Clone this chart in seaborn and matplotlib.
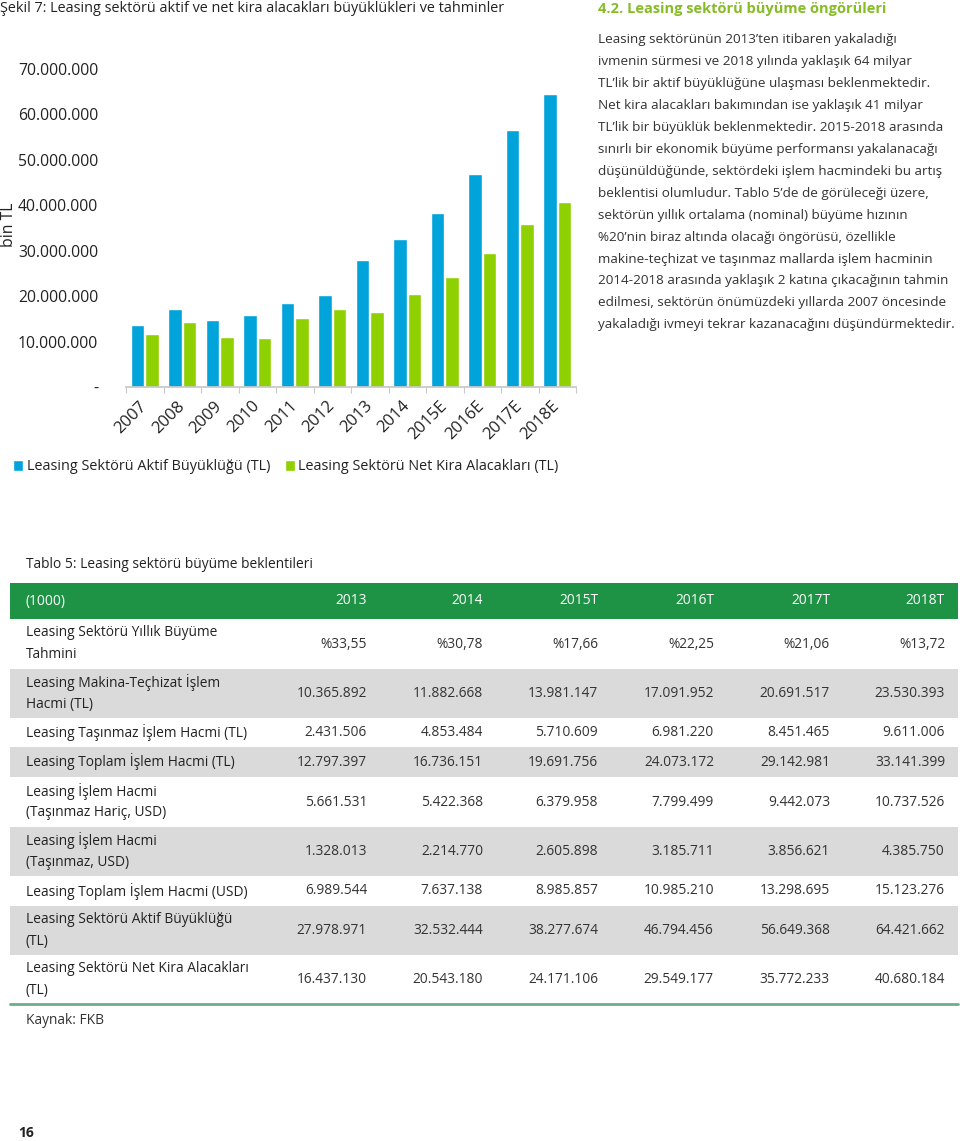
import matplotlib.pyplot as plt
import matplotlib.ticker as mticker
from matplotlib.patches import Rectangle
import pandas as pd
import seaborn as sns

# --- chart data (bin TL) ---
yillar = ["2007", "2008", "2009", "2010", "2011", "2012", "2013", "2014",
          "2015E", "2016E", "2017E", "2018E"]
aktif = [13.7e6, 17.1e6, 14.7e6, 15.8e6, 18.6e6, 20.2e6, 27978971, 32532444,
         38277674, 46794456, 56649368, 64421662]
net_kira = [11.7e6, 14.4e6, 11.0e6, 10.7e6, 15.1e6, 17.1e6, 16437130, 20543180,
            24171106, 29549177, 35772233, 40680184]
seri_adlari = ["Leasing Sektörü Aktif Büyüklüğü (TL)",
               "Leasing Sektörü Net Kira Alacakları (TL)"]

# --- table data ---
tablo_basliklari = ["(1000)", "2013", "2014", "2015T", "2016T", "2017T", "2018T"]
satir_adlari = [
    "Leasing Sektörü Yıllık Büyüme\nTahmini",
    "Leasing Makina-Teçhizat İşlem\nHacmi (TL)",
    "Leasing Taşınmaz İşlem Hacmi (TL)",
    "Leasing Toplam İşlem Hacmi (TL)",
    "Leasing İşlem Hacmi\n(Taşınmaz Hariç, USD)",
    "Leasing İşlem Hacmi\n(Taşınmaz, USD)",
    "Leasing Toplam İşlem Hacmi (USD)",
    "Leasing Sektörü Aktif Büyüklüğü\n(TL)",
    "Leasing Sektörü Net Kira Alacakları\n(TL)",
]
tablo_degerleri = [
    ["%33,55", "%30,78", "%17,66", "%22,25", "%21,06", "%13,72"],
    ["10.365.892", "11.882.668", "13.981.147", "17.091.952", "20.691.517", "23.530.393"],
    ["2.431.506", "4.853.484", "5.710.609", "6.981.220", "8.451.465", "9.611.006"],
    ["12.797.397", "16.736.151", "19.691.756", "24.073.172", "29.142.981", "33.141.399"],
    ["5.661.531", "5.422.368", "6.379.958", "7.799.499", "9.442.073", "10.737.526"],
    ["1.328.013", "2.214.770", "2.605.898", "3.185.711", "3.856.621", "4.385.750"],
    ["6.989.544", "7.637.138", "8.985.857", "10.985.210", "13.298.695", "15.123.276"],
    ["27.978.971", "32.532.444", "38.277.674", "46.794.456", "56.649.368", "64.421.662"],
    ["16.437.130", "20.543.180", "24.171.106", "29.549.177", "35.772.233", "40.680.184"],
]

metin_satirlari = [
    "Leasing sektörünün 2013’ten itibaren yakaladığı",
    "ivmenin sürmesi ve 2018 yılında yaklaşık 64 milyar",
    "TL’lik bir aktif büyüklüğüne ulaşması beklenmektedir.",
    "Net kira alacakları bakımından ise yaklaşık 41 milyar",
    "TL’lik bir büyüklük beklenmektedir. 2015-2018 arasında",
    "sınırlı bir ekonomik büyüme performansı yakalanacağı",
    "düşünüldüğünde, sektördeki işlem hacmindeki bu artış",
    "beklentisi olumludur. Tablo 5’de de görüleceği üzere,",
    "sektörün yıllık ortalama (nominal) büyüme hızının",
    "%20’nin biraz altında olacağı öngörüsü, özellikle",
    "makine-teçhizat ve taşınmaz mallarda işlem hacminin",
    "2014-2018 arasında yaklaşık 2 katına çıkacağının tahmin",
    "edilmesi, sektörün önümüzdeki yıllarda 2007 öncesinde",
    "yakaladığı ivmeyi tekrar kazanacağını düşündürmektedir.",
]

MAVI = "#00a3da"
YESIL = "#8fd000"
KOYU_YESIL = "#1e9346"
BASLIK_YESIL = "#86bc25"
GRI = "#dadada"
METIN = "#333333"

W, H = 960, 1141

sns.set_theme(style="white")
plt.rcParams["font.family"] = ["Open Sans", "DejaVu Sans"]
plt.rcParams["text.color"] = METIN


def fx(x):
    return x / W


def fy(y):
    return 1 - y / H


fig = plt.figure(figsize=(W / 100, H / 100), dpi=100)

# --- bar chart ---
df = pd.DataFrame({"yil": yillar * 2,
                   "deger": aktif + net_kira,
                   "seri": [seri_adlari[0]] * len(yillar) + [seri_adlari[1]] * len(yillar)})

ax = fig.add_axes([fx(126), fy(387), fx(576) - fx(126), fy(69) - fy(387)])
sns.barplot(data=df, x="yil", y="deger", hue="seri", palette=[MAVI, YESIL],
            width=0.78, gap=0.1, saturation=1, ax=ax)
ax.set_ylim(0, 70e6)
ax.set_xlim(-0.5, len(yillar) - 0.5)
ax.yaxis.set_major_locator(mticker.MultipleLocator(10e6))
ax.yaxis.set_major_formatter(mticker.FuncFormatter(
    lambda v, _: "-" if v == 0 else f"{v:,.0f}".replace(",", ".")))
ax.tick_params(axis="y", length=0, pad=20, labelsize=11.3, labelcolor="#222222")
ax.tick_params(axis="x", which="major", length=0, pad=12, labelsize=12, labelcolor="#222222")
for lbl in ax.get_xticklabels():
    lbl.set_rotation(45)
    lbl.set_ha("right")
    lbl.set_va("center")
    lbl.set_rotation_mode("anchor")
ax.set_xticks([i - 0.5 for i in range(len(yillar) + 1)], minor=True)
ax.tick_params(axis="x", which="minor", length=4, width=0.8, color="#c8c8c8", bottom=True)
sns.despine(ax=ax, left=True)
ax.spines["bottom"].set_color("#c8c8c8")
ax.set_xlabel("")
ax.set_ylabel("bin TL", fontsize=11.3, color="#222222")
ax.yaxis.set_label_coords(-0.242, 0.51)
sns.move_legend(ax, "center left", bbox_to_anchor=(fx(0), fy(467)),
                bbox_transform=fig.transFigure, ncol=2, frameon=False, title=None,
                fontsize=10.4, handlelength=0.7, handleheight=0.7,
                handletextpad=0.25, columnspacing=1.0)
for t in ax.get_legend().get_texts():
    t.set_color("#222222")

fig.text(fx(0), fy(9), "Şekil 7: Leasing sektörü aktif ve net kira alacakları büyüklükleri ve tahminler",
         fontsize=10.4, va="center", ha="left", color="#222222")

# --- right-hand text ---
fig.text(fx(598), fy(9), "4.2. Leasing sektörü büyüme öngörüleri", fontsize=10.5,
         fontweight="bold", color=BASLIK_YESIL, va="center", ha="left")
for i, satir in enumerate(metin_satirlari):
    fig.text(fx(598), fy(40 + i * 21.9), satir, fontsize=9.7, va="center", ha="left",
             color=METIN)

# --- table ---
tx = fig.add_axes([0, 0, 1, 1])
tx.set_xlim(0, W)
tx.set_ylim(H, 0)
tx.axis("off")
tx.patch.set_alpha(0)

tx.text(26, 565, "Tablo 5: Leasing sektörü büyüme beklentileri", fontsize=9.9,
        va="center", ha="left", color="#222222")
sag_kenarlar = [367, 483, 598, 714, 830, 945]
tx.add_patch(Rectangle((10, 583), 948, 36, color=KOYU_YESIL, lw=0))
tx.text(26, 601, tablo_basliklari[0], fontsize=9.9, color="white", va="center", ha="left")
for xr, b in zip(sag_kenarlar, tablo_basliklari[1:]):
    tx.text(xr, 601, b, fontsize=9.9, color="white", va="center", ha="right")

sinirlar = [619, 669, 718, 747, 777, 827, 876, 906, 955, 1004]
for i, (ad, degerler) in enumerate(zip(satir_adlari, tablo_degerleri)):
    y0, y1 = sinirlar[i], sinirlar[i + 1]
    yc = (y0 + y1) / 2
    if i % 2 == 1:
        tx.add_patch(Rectangle((10, y0), 948, y1 - y0, color=GRI, lw=0))
    parcalar = ad.split("\n")
    for j, p in enumerate(parcalar):
        tx.text(26, yc + (j - (len(parcalar) - 1) / 2) * 22, p, fontsize=9.9,
                va="center", ha="left", color="#222222")
    for xr, d in zip(sag_kenarlar, degerler):
        tx.text(xr, yc, d, fontsize=9.9, va="center", ha="right", color="#333333")
tx.plot([10, 958], [1004, 1004], color="#6aae8a", lw=2)

tx.text(26, 1020, "Kaynak: FKB", fontsize=9.9, va="center", ha="left", color="#333333")
tx.text(18, 1133, "16", fontsize=10, fontweight="bold", va="center", ha="left", color="#222222")

fig.savefig("out.png", dpi=100)
